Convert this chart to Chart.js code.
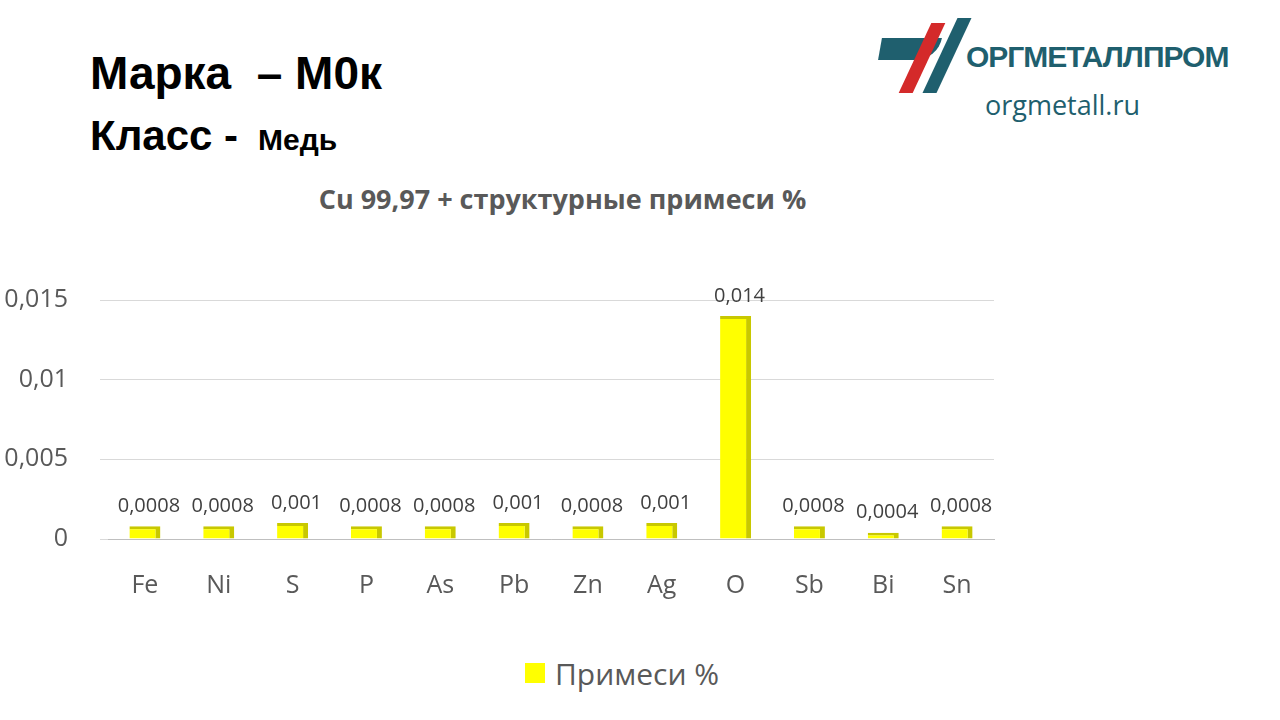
<!DOCTYPE html>
<html><head><meta charset="utf-8">
<script src="https://cdn.jsdelivr.net/npm/chart.js@4"></script>
<style>
body{margin:0;width:1280px;height:720px;background:#fff;font-family:Calibri,"Liberation Sans Narrow","Open Sans",sans-serif;overflow:hidden;position:relative}
.t{position:absolute;font-family:"Liberation Sans",Arial,sans-serif;font-weight:bold;color:#000}
#c{position:absolute;left:0;top:0}
</style></head><body>
<div class="t" style="left:90px;top:46px;font-size:46px">Марка &nbsp;– М0к</div>
<div class="t" style="left:90px;top:112px;font-size:42px">Класс - <span style="font-size:30px">&nbsp;Медь</span></div>
<div class="t" style="left:0;width:1125px;text-align:center;top:180px;font-size:27px;color:#595959;font-family:'Open Sans',sans-serif">Cu 99,97 + структурные примеси %</div>
<div style="position:absolute;left:880px;top:18px;width:90px;height:75px">
 <div style="position:absolute;left:0;top:20px;width:60px;height:22px;background:#1f5f6e;border-radius:0 0 40px 0;transform:skewX(-10deg)"></div>
 <div style="position:absolute;left:35px;top:5px;width:14px;height:70px;background:#d42a2a;transform:skewX(-25deg)"></div>
 <div style="position:absolute;left:60px;top:0;width:14px;height:75px;background:#1f5f6e;transform:skewX(-25deg)"></div>
</div>
<div class="t" style="left:966px;top:40px;font-size:30px;color:#1f5f6e;letter-spacing:-1px">ОРГМЕТАЛЛПРОМ</div>
<div style="position:absolute;left:985px;top:86px;font-size:27px;color:#1f5f6e;font-family:'Open Sans',sans-serif">orgmetall.ru</div>
<div style="position:absolute;left:525px;top:663px;width:20px;height:20px;background:#ffff00"></div>
<div style="position:absolute;left:555px;top:653px;font-size:30px;color:#595959;font-family:'Open Sans',sans-serif">Примеси %</div>
<canvas id="c" width="1280" height="720"></canvas>
<script>
const categories=["Fe","Ni","S","P","As","Pb","Zn","Ag","O","Sb","Bi","Sn"];
const values=[0.0008,0.0008,0.001,0.0008,0.0008,0.001,0.0008,0.001,0.014,0.0008,0.0004,0.0008];
const valueLabels=["0,0008","0,0008","0,001","0,0008","0,0008","0,001","0,0008","0,001","0,014","0,0008","0,0004","0,0008"];
const yTicks={0:"0",0.005:"0,005",0.01:"0,01",0.015:"0,015"};
const labelPlugin={id:"lbl",afterDatasetsDraw(ch){const ctx=ch.ctx;const m=ch.getDatasetMeta(0);ctx.save();ctx.font="20px 'Open Sans',sans-serif";ctx.fillStyle="#404040";ctx.textAlign="center";ctx.textBaseline="bottom";
m.data.forEach((b,i)=>{ctx.fillText(valueLabels[i],b.x+4,b.y-10);});ctx.restore();}};
new Chart(document.getElementById("c"),{type:"bar",
data:{labels:categories,datasets:[{data:values,backgroundColor:"#ffff00",borderColor:"#c8c800",borderWidth:{right:5,top:3},borderSkipped:"bottom",barPercentage:0.42,categoryPercentage:1}]},
options:{responsive:false,animation:false,layout:{padding:{left:0,top:300,right:286,bottom:121}},
plugins:{legend:{display:false},tooltip:{enabled:false}},
scales:{y:{min:0,max:0.015,afterFit(s){s.width=108},border:{display:false},grid:{color:"#d9d9d9"},
 ticks:{stepSize:0.005,padding:32,color:"#595959",font:{size:25,family:"'Open Sans',sans-serif"},callback:v=>yTicks[Math.round(v*1000)/1000]??""}},
 x:{afterFit(s){s.height=60},grid:{display:false},border:{color:"#bfbfbf"},ticks:{padding:24,color:"#595959",font:{size:25,family:"'Open Sans',sans-serif"}}}}},
plugins:[labelPlugin]});
</script></body></html>
